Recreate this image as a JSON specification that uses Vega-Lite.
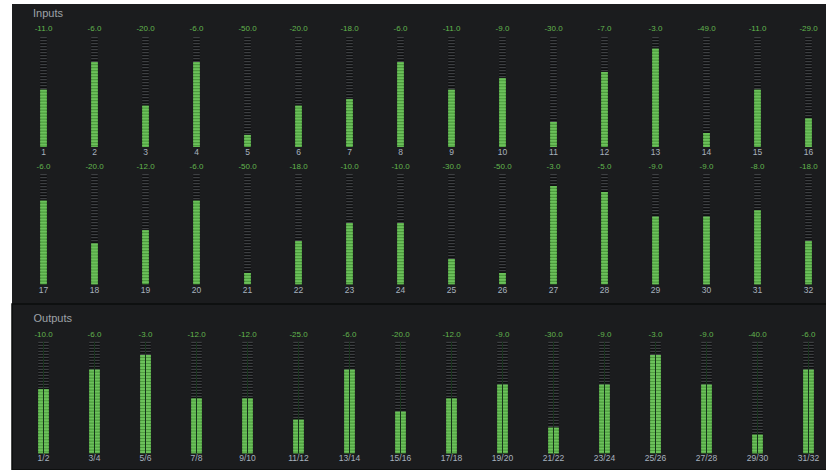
{
  "$schema": "https://vega.github.io/schema/vega-lite/v6.json",
  "background": "white",
  "padding": {"left": 11, "top": 4, "right": 0, "bottom": 0},
  "spacing": 0,
  "bounds": "flush",
  "config": {
    "view": {"stroke": null},
    "font": "Liberation Sans",
    "locale": {"number": {"decimal": ".", "thousands": ",", "grouping": [3], "currency": ["$", ""], "minus": "-"}}
  },
  "datasets": {
    "inputs": [
      {"bank": 1, "ch": 1, "peak": -11, "level": 52},
      {"bank": 1, "ch": 2, "peak": -6, "level": 77},
      {"bank": 1, "ch": 3, "peak": -20, "level": 37.5},
      {"bank": 1, "ch": 4, "peak": -6, "level": 77},
      {"bank": 1, "ch": 5, "peak": -50, "level": 11},
      {"bank": 1, "ch": 6, "peak": -20, "level": 37.5},
      {"bank": 1, "ch": 7, "peak": -18, "level": 43.4},
      {"bank": 1, "ch": 8, "peak": -6, "level": 77},
      {"bank": 1, "ch": 9, "peak": -11, "level": 52},
      {"bank": 1, "ch": 10, "peak": -9, "level": 62.4},
      {"bank": 1, "ch": 11, "peak": -30, "level": 22.7},
      {"bank": 1, "ch": 12, "peak": -7, "level": 68.2},
      {"bank": 1, "ch": 13, "peak": -3, "level": 89.4},
      {"bank": 1, "ch": 14, "peak": -49, "level": 12.7},
      {"bank": 1, "ch": 15, "peak": -11, "level": 52},
      {"bank": 1, "ch": 16, "peak": -29, "level": 25.8},
      {"bank": 2, "ch": 17, "peak": -6, "level": 75.8},
      {"bank": 2, "ch": 18, "peak": -20, "level": 36.9},
      {"bank": 2, "ch": 19, "peak": -12, "level": 49},
      {"bank": 2, "ch": 20, "peak": -6, "level": 75.8},
      {"bank": 2, "ch": 21, "peak": -50, "level": 10.3},
      {"bank": 2, "ch": 22, "peak": -18, "level": 39},
      {"bank": 2, "ch": 23, "peak": -10, "level": 55.3},
      {"bank": 2, "ch": 24, "peak": -10, "level": 55.3},
      {"bank": 2, "ch": 25, "peak": -30, "level": 22.7},
      {"bank": 2, "ch": 26, "peak": -50, "level": 10.3},
      {"bank": 2, "ch": 27, "peak": -3, "level": 89.1},
      {"bank": 2, "ch": 28, "peak": -5, "level": 83.7},
      {"bank": 2, "ch": 29, "peak": -9, "level": 61.3},
      {"bank": 2, "ch": 30, "peak": -9, "level": 61.3},
      {"bank": 2, "ch": 31, "peak": -8, "level": 67},
      {"bank": 2, "ch": 32, "peak": -18, "level": 39}
    ],
    "outputs": [
      {"ch": "1/2", "peak": -10, "level": 57.3},
      {"ch": "3/4", "peak": -6, "level": 74.9},
      {"ch": "5/6", "peak": -3, "level": 88},
      {"ch": "7/8", "peak": -12, "level": 49},
      {"ch": "9/10", "peak": -12, "level": 49},
      {"ch": "11/12", "peak": -25, "level": 30.1},
      {"ch": "13/14", "peak": -6, "level": 74.9},
      {"ch": "15/16", "peak": -20, "level": 37.3},
      {"ch": "17/18", "peak": -12, "level": 49},
      {"ch": "19/20", "peak": -9, "level": 61.5},
      {"ch": "21/22", "peak": -30, "level": 23},
      {"ch": "23/24", "peak": -9, "level": 61.5},
      {"ch": "25/26", "peak": -3, "level": 88},
      {"ch": "27/28", "peak": -9, "level": 61.5},
      {"ch": "29/30", "peak": -40, "level": 16.7},
      {"ch": "31/32", "peak": -6, "level": 74.9}
    ]
  },
  "vconcat": [
    {
      "width": 815, "height": 154,
      "view": {"fill": "#1b1c1e", "stroke": null},
      "data": {"name": "inputs"},
      "transform": [{"filter": "datum.bank == 1"}],
      "encoding": {"x": {"field": "ch", "type": "ordinal", "axis": null, "scale": {"type": "point", "range": [31.5, 796.5], "padding": 0}}},
      "layer": [
        {"mark": {"type": "rule", "stroke": "#0e0f10", "strokeWidth": 6.6},
         "encoding": {"y": {"datum": 100, "type": "quantitative", "axis": null, "scale": {"domain": [0, 100], "range": [143, 33]}}, "y2": {"datum": 0}}},
        {"mark": {"type": "rule", "stroke": "#3d3f42", "strokeWidth": 6.6, "strokeDash": [1.3, 1.7]},
         "encoding": {"y": {"datum": 100, "type": "quantitative"}, "y2": {"datum": 0}}},
        {"mark": {"type": "rule", "stroke": "#4d9c3e", "strokeWidth": 6.6},
         "encoding": {"y": {"field": "level", "type": "quantitative"}, "y2": {"datum": 0}}},
        {"mark": {"type": "rule", "stroke": "#6cc15b", "strokeWidth": 6.6, "strokeDash": [1.8, 1.2]},
         "encoding": {"y": {"field": "level", "type": "quantitative"}, "y2": {"datum": 0}}},
        {"mark": {"type": "text", "fontSize": 8, "color": "#62b64e", "baseline": "middle", "dy": -8},
         "encoding": {"y": {"datum": 100, "type": "quantitative"}, "text": {"field": "peak", "type": "quantitative", "format": ".1f"}}},
        {"mark": {"type": "text", "fontSize": 8.5, "color": "#a8b2bf", "baseline": "middle", "dy": 5},
         "encoding": {"y": {"datum": 0, "type": "quantitative"}, "text": {"field": "ch", "type": "nominal"}}},
        {"data": {"values": [{"ch": 1, "section": "Inputs"}]},
         "mark": {"type": "text", "fontSize": 11, "color": "#9ea2a7", "align": "left", "baseline": "alphabetic", "dx": -10.5},
         "encoding": {"y": {"datum": 118.5, "type": "quantitative"}, "text": {"field": "section", "type": "nominal"}}}
      ]
    },
    {
      "width": 815, "height": 146,
      "view": {"fill": "#1b1c1e", "stroke": null},
      "data": {"name": "inputs"},
      "transform": [{"filter": "datum.bank == 2"}],
      "encoding": {"x": {"field": "ch", "type": "ordinal", "axis": null, "scale": {"type": "point", "range": [31.5, 796.5], "padding": 0}}},
      "layer": [
        {"mark": {"type": "rule", "stroke": "#0e0f10", "strokeWidth": 6.6},
         "encoding": {"y": {"datum": 100, "type": "quantitative", "axis": null, "scale": {"domain": [0, 100], "range": [126.3, 16]}}, "y2": {"datum": 0}}},
        {"mark": {"type": "rule", "stroke": "#3d3f42", "strokeWidth": 6.6, "strokeDash": [1.3, 1.7]},
         "encoding": {"y": {"datum": 100, "type": "quantitative"}, "y2": {"datum": 0}}},
        {"mark": {"type": "rule", "stroke": "#4d9c3e", "strokeWidth": 6.6},
         "encoding": {"y": {"field": "level", "type": "quantitative"}, "y2": {"datum": 0}}},
        {"mark": {"type": "rule", "stroke": "#6cc15b", "strokeWidth": 6.6, "strokeDash": [1.8, 1.2]},
         "encoding": {"y": {"field": "level", "type": "quantitative"}, "y2": {"datum": 0}}},
        {"mark": {"type": "text", "fontSize": 8, "color": "#62b64e", "baseline": "middle", "dy": -7},
         "encoding": {"y": {"datum": 100, "type": "quantitative"}, "text": {"field": "peak", "type": "quantitative", "format": ".1f"}}},
        {"mark": {"type": "text", "fontSize": 8.5, "color": "#a8b2bf", "baseline": "middle", "dy": 5.7},
         "encoding": {"y": {"datum": 0, "type": "quantitative"}, "text": {"field": "ch", "type": "nominal"}}}
      ]
    },
    {
      "width": 815, "height": 166,
      "view": {"fill": "#1b1c1e", "stroke": "#0b0c0d", "strokeWidth": 1.5},
      "data": {"name": "outputs"},
      "encoding": {"x": {"field": "ch", "type": "ordinal", "sort": null, "axis": null, "scale": {"type": "point", "range": [31.5, 796.5], "padding": 0}}},
      "layer": [
        {"mark": {"type": "rule", "stroke": "#0e0f10", "strokeWidth": 10.6},
         "encoding": {"y": {"datum": 100, "type": "quantitative", "axis": null, "scale": {"domain": [0, 100], "range": [149.3, 37.7]}}, "y2": {"datum": 0}}},
        {"mark": {"type": "rule", "stroke": "#3d3f42", "strokeWidth": 10.6, "strokeDash": [1.3, 1.7]},
         "encoding": {"y": {"datum": 100, "type": "quantitative"}, "y2": {"datum": 0}}},
        {"mark": {"type": "rule", "stroke": "#4d9c3e", "strokeWidth": 10.6},
         "encoding": {"y": {"field": "level", "type": "quantitative"}, "y2": {"datum": 0}}},
        {"mark": {"type": "rule", "stroke": "#6cc15b", "strokeWidth": 10.6, "strokeDash": [1.8, 1.2]},
         "encoding": {"y": {"field": "level", "type": "quantitative"}, "y2": {"datum": 0}}},
        {"mark": {"type": "rule", "stroke": "#16331a", "strokeWidth": 1},
         "encoding": {"y": {"datum": 100, "type": "quantitative"}, "y2": {"datum": 0}}},
        {"mark": {"type": "text", "fontSize": 8, "color": "#62b64e", "baseline": "middle", "dy": -6.7},
         "encoding": {"y": {"datum": 100, "type": "quantitative"}, "text": {"field": "peak", "type": "quantitative", "format": ".1f"}}},
        {"mark": {"type": "text", "fontSize": 8.5, "color": "#a8b2bf", "baseline": "middle", "dy": 4.7},
         "encoding": {"y": {"datum": 0, "type": "quantitative"}, "text": {"field": "ch", "type": "nominal"}}},
        {"data": {"values": [{"ch": "1/2", "section": "Outputs"}]},
         "mark": {"type": "text", "fontSize": 11, "color": "#9ea2a7", "align": "left", "baseline": "alphabetic", "dx": -10},
         "encoding": {"y": {"datum": 118.1, "type": "quantitative"}, "text": {"field": "section", "type": "nominal"}}}
      ]
    }
  ]
}
